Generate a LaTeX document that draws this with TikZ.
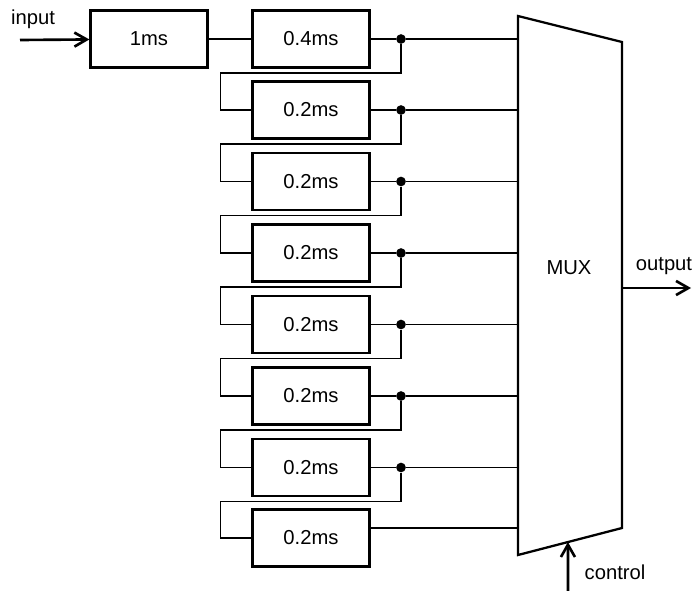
\documentclass[tikz,border=0pt]{standalone}
\usepackage{fontspec}
\setmainfont{Liberation Sans}
\usetikzlibrary{arrows.meta, positioning, calc}

\begin{document}
\begin{tikzpicture}[x=0.2mm, y=-0.2mm, font=\fontsize{11.5}{13}\selectfont,
    delay/.style={draw, line width=1.3pt, minimum width=2.34cm, minimum height=1.14cm},
    wire/.style={line width=0.6pt},
    sig/.style={line width=1.5pt, -{Straight Barb[length=7pt, width=8pt, line width=1.5pt]}},
    tap/.style={circle, fill, inner sep=0pt, minimum size=5.5pt}]
    \useasboundingbox (0,0) rectangle (695,591);

    % Delay chain
    \node[delay] (dl0) at (149,39) {1ms};
    \node[delay] (dl1) at (311,39) {0.4ms};
    \node[delay] (dl2) at (311,110) {0.2ms};
    \node[delay] (dl3) at (311,181.5) {0.2ms};
    \node[delay] (dl4) at (311,253) {0.2ms};
    \node[delay] (dl5) at (311,324.5) {0.2ms};
    \node[delay] (dl6) at (311,396) {0.2ms};
    \node[delay] (dl7) at (311,467.5) {0.2ms};
    \node[delay] (dl8) at (311,538) {0.2ms};

    % Taps
    \node[tap] (t1) at (401,39) {};
    \node[tap] (t2) at (401,110) {};
    \node[tap] (t3) at (401,181.5) {};
    \node[tap] (t4) at (401,253) {};
    \node[tap] (t5) at (401,324.5) {};
    \node[tap] (t6) at (401,396) {};
    \node[tap] (t7) at (401,467.5) {};

    % MUX
    \coordinate (mtl) at (518,16);
    \coordinate (mtr) at (622,42);
    \coordinate (mbr) at (622,528);
    \coordinate (mbl) at (518,555);
    \draw[line width=1.3pt] (mtl) -- (mtr) -- (mbr) -- (mbl) -- cycle;
    \node (mux) at (569,268) {MUX};

    % Wiring
    \draw[wire] (dl0) -- (dl1);
    \draw[wire] (dl1) -- (t1) -- (t1 -| mtl);
    \draw[wire] (t1) -- ++(0,34) -| ($(dl2.west)+(-31,0)$) -- (dl2.west);
    \draw[wire] (dl2) -- (t2) -- (t2 -| mtl);
    \draw[wire] (t2) -- ++(0,34) -| ($(dl3.west)+(-31,0)$) -- (dl3.west);
    \draw[wire] (dl3) -- (t3) -- (t3 -| mtl);
    \draw[wire] (t3) -- ++(0,34) -| ($(dl4.west)+(-31,0)$) -- (dl4.west);
    \draw[wire] (dl4) -- (t4) -- (t4 -| mtl);
    \draw[wire] (t4) -- ++(0,34) -| ($(dl5.west)+(-31,0)$) -- (dl5.west);
    \draw[wire] (dl5) -- (t5) -- (t5 -| mtl);
    \draw[wire] (t5) -- ++(0,34) -| ($(dl6.west)+(-31,0)$) -- (dl6.west);
    \draw[wire] (dl6) -- (t6) -- (t6 -| mtl);
    \draw[wire] (t6) -- ++(0,34) -| ($(dl7.west)+(-31,0)$) -- (dl7.west);
    \draw[wire] (dl7) -- (t7) -- (t7 -| mtl);
    \draw[wire] (t7) -- ++(0,34) -| ($(dl8.west)+(-31,0)$) -- (dl8.west);
    \coordinate (m8) at (518,528);
    \draw[wire] (m8 -| dl8.east) -- (m8);

    % In / out / control
    \coordinate (in) at (20,40);
    \draw[sig] (in) -- (dl0);
    \node (inlbl) at (33,19) {input};
    \coordinate (out) at (691,288);
    \draw[sig] (out -| mtr) -- (out);
    \node (outlbl) at (664,266) {output};
    \coordinate (ctl) at (568,591);
    \draw[sig] (ctl) -- ($(mbl)!0.48!(mbr)$);
    \node (ctllbl) at (615,572) {control};
\end{tikzpicture}
\end{document}
